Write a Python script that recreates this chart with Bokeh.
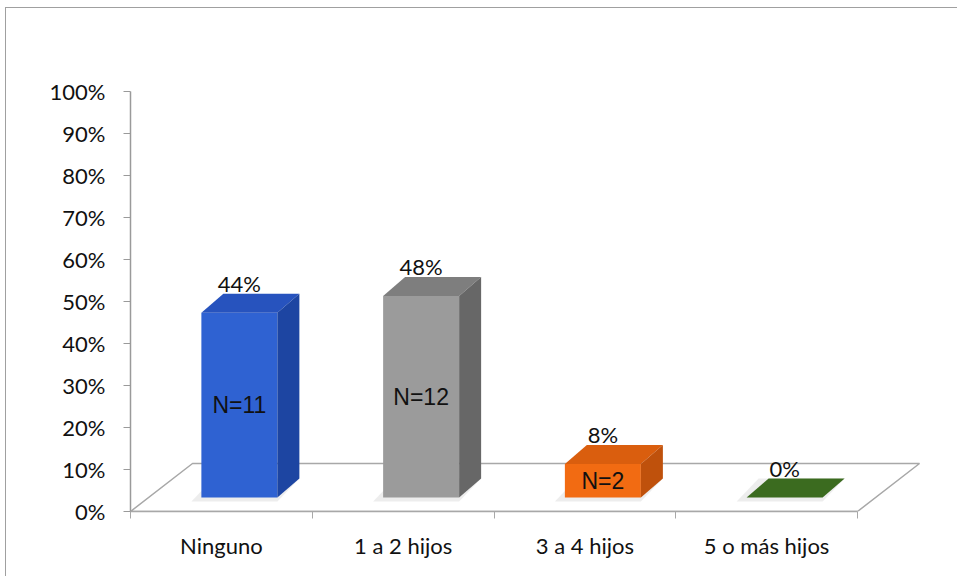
from bokeh.plotting import figure
from bokeh.models import Range1d, FixedTicker, NumeralTickFormatter, ColumnDataSource
from bokeh.core.properties import value
from bokeh.embed import file_html
from bokeh.resources import INLINE

# --- data -------------------------------------------------------------
categories = ["Ninguno", "1 a 2 hijos", "3 a 4 hijos", "5 o más hijos"]
shares = [0.44, 0.48, 0.08, 0.00]
counts = [11, 12, 2, 0]
y_ticks = [0.0, 0.1, 0.2, 0.3, 0.4, 0.5, 0.6, 0.7, 0.8, 0.9, 1.0]

# --- styling ----------------------------------------------------------
front_colors = ["#2F62D2", "#9B9B9B", "#F26B12", "#3B6B1F"]
top_colors = ["#2753BE", "#7E7E7E", "#DA5E0E", "#3B6B1F"]
side_colors = ["#1D45A2", "#676767", "#BF510C", "#325C1A"]

CAT_PX = 181.75       # pixels per category slot
SHARE_PX = 420.0      # pixels per 100 %
FRAME_W, FRAME_H = 820, 481

BAR_W = 76 / CAT_PX           # front face width
BAR_DX = 18 / CAT_PX          # bars stand mid-depth on the floor
BAR_DY = 14 / SHARE_PX
DEP_DX = 22 / CAT_PX          # bar depth (oblique projection)
DEP_DY = 19 / SHARE_PX
FLOOR_DX = 62 / CAT_PX        # floor depth
FLOOR_DY = 48 / SHARE_PX

n = len(categories)
xc = [i + 0.5 for i in range(n)]
fx = [x + BAR_DX for x in xc]
left = [x - BAR_W / 2 for x in fx]
right = [x + BAR_W / 2 for x in fx]
bottom = [BAR_DY] * n
top = [s + BAR_DY for s in shares]

p = figure(width=952, height=569, output_backend="svg", toolbar_location=None,
           x_range=Range1d(0, FRAME_W / CAT_PX), y_range=Range1d(0, FRAME_H / SHARE_PX),
           min_border_left=124, min_border_right=8, min_border_top=22, min_border_bottom=66,
           background_fill_color="white", border_fill_color="white")
p.outline_line_color = None
p.grid.visible = False
# chart-area border: only its left and top edges fall inside the page
p.margin = (7, 0, 0, 5)
p.styles = {"border-left": "1px solid #A0A0A0", "border-top": "1px solid #A0A0A0"}

# floor
p.patch([0, n, n + FLOOR_DX, FLOOR_DX], [0, 0, FLOOR_DY, FLOOR_DY],
        fill_color="white", line_color="#A8A8A8", line_width=1.5)

# soft shadows at the bar feet
p.patches([[l - 10 / CAT_PX, r, r + DEP_DX, l + DEP_DX - 10 / CAT_PX] for l, r in zip(left, right)],
          [[b - 4 / SHARE_PX, b - 4 / SHARE_PX, b + DEP_DY, b + DEP_DY] for b in bottom],
          fill_color="#9A9A9A", fill_alpha=0.18, line_color=None)

# bars: front, top and side faces
src = ColumnDataSource(dict(left=left, right=right, bottom=bottom, top=top, color=front_colors))
p.quad(left="left", right="right", bottom="bottom", top="top", fill_color="color",
       line_color=None, source=src)
p.patches([[l, r, r + DEP_DX, l + DEP_DX] for l, r in zip(left, right)],
          [[t, t, t + DEP_DY, t + DEP_DY] for t in top],
          fill_color=top_colors, line_color=None)
p.patches([[r, r + DEP_DX, r + DEP_DX, r] for r in right],
          [[b, b + DEP_DY, t + DEP_DY, t] for b, t in zip(bottom, top)],
          fill_color=side_colors, line_color=None)

# value labels sit on the back edge of each bar's top face
p.text(x=fx, y=[t + DEP_DY for t in top], text=[f"{round(s * 100)}%" for s in shares],
       text_font=value("Lato"), text_font_size="22px", text_color="#111111",
       text_align="center", text_baseline="bottom", y_offset=3)
nx = [f for f, c in zip(fx, counts) if c > 0]
ny = [b + s / 2 for b, s, c in zip(bottom, shares, counts) if c > 0]
p.text(x=nx, y=ny, text=[f"N={c}" for c in counts if c > 0],
       text_font=value("Liberation Sans"), text_font_size="23px", text_color="#111111",
       text_align="center", text_baseline="middle")

# axes
ya = p.yaxis[0]
ya.ticker = FixedTicker(ticks=y_ticks, minor_ticks=[])
ya.formatter = NumeralTickFormatter(format="0%")
ya.bounds = (0, 1)
ya.axis_line_color = "#9A9A9A"
ya.axis_line_width = 1.5
ya.major_tick_line_color = "#9A9A9A"
ya.major_tick_out = 7
ya.major_tick_in = 0
ya.major_label_standoff = 18
ya.major_label_text_font = "Lato"
ya.major_label_text_font_size = "22px"
ya.major_label_text_color = "#111111"

xa = p.xaxis[0]
xa.ticker = FixedTicker(ticks=xc, minor_ticks=list(range(n + 1)))
xa.major_label_overrides = {x: c for x, c in zip(xc, categories)}
xa.bounds = (0, n)
xa.axis_line_color = "#A8A8A8"
xa.axis_line_width = 1.5
xa.major_tick_out = 0
xa.major_tick_in = 0
xa.minor_tick_line_color = "#A8A8A8"
xa.minor_tick_out = 7
xa.minor_tick_in = 0
xa.major_label_standoff = 13
xa.major_label_text_font = "Lato"
xa.major_label_text_font_size = "22px"
xa.major_label_text_color = "#111111"

open("out.html", "w").write(file_html(p, INLINE))
